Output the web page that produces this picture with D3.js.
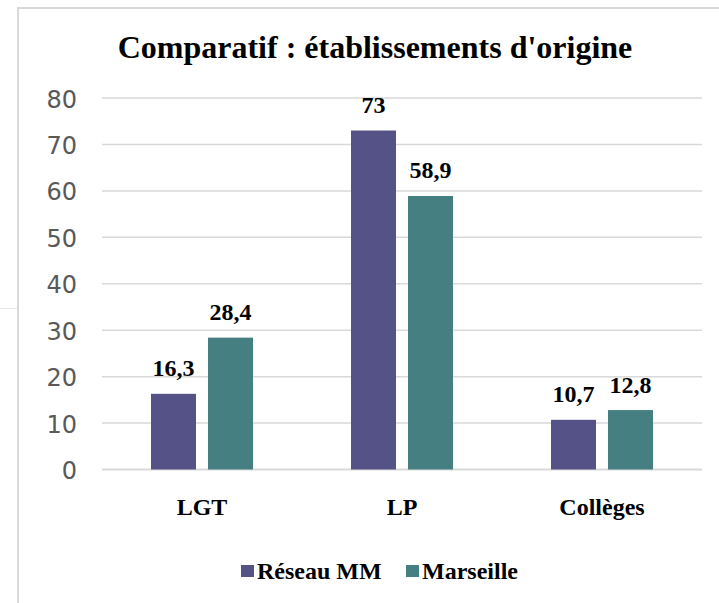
<!DOCTYPE html>
<html><head><meta charset="utf-8">
<script src="https://cdn.jsdelivr.net/npm/d3@7"></script>
<style>body{margin:0;background:#fff}</style>
</head><body>
<script>
const categories = ["LGT", "LP", "Collèges"];
const seriesNames = ["Réseau MM", "Marseille"];
const reseauMM = [16.3, 73, 10.7];
const marseille = [28.4, 58.9, 12.8];
const yTicks = [0, 10, 20, 30, 40, 50, 60, 70, 80];
const colors = ["#555288", "#467F82"];

const W = 719, H = 603;
const svg = d3.select("body").append("svg").attr("width", W).attr("height", H);
svg.append("line").attr("x1", 0).attr("x2", 17).attr("y1", 308.5).attr("y2", 308.5).attr("stroke", "#e6e6e6").attr("stroke-width", 1);
svg.append("rect").attr("x", 18).attr("y", 8).attr("width", W).attr("height", H).attr("fill", "#fff").attr("stroke", "#d9d9d9").attr("stroke-width", 2);

const x0 = 102, x1 = 702, yTop = 98, yBot = 469.5;
const x = d3.scaleBand().domain(categories).range([x0, x1]);
const y = d3.scaleLinear().domain([0, 80]).range([yBot, yTop]);

svg.append("text").attr("x", 375).attr("y", 58).attr("text-anchor", "middle")
  .attr("font-family", "Liberation Serif").attr("font-weight", "bold").attr("font-size", 32)
  .text("Comparatif : établissements d'origine");

svg.append("g").selectAll("line").data(yTicks).join("line")
  .attr("x1", x0).attr("x2", x1).attr("y1", d => y(d)).attr("y2", d => y(d))
  .attr("stroke", "#d9d9d9").attr("stroke-width", d => d === 0 ? 2 : 1.5);
svg.append("g").selectAll("text").data(yTicks).join("text")
  .attr("x", 77).attr("y", d => y(d) + 9.5).attr("text-anchor", "end")
  .attr("font-family", "DejaVu Sans").attr("font-size", 24).attr("fill", "#595959")
  .text(d => d);

const barW = 45, gap = 12;
const series = [reseauMM, marseille];
series.forEach((vals, si) => {
  const g = svg.append("g");
  const bx = (c) => x(c) + x.bandwidth() / 2 + (si === 0 ? -gap / 2 - barW : gap / 2);
  g.selectAll("rect").data(categories).join("rect")
    .attr("x", c => bx(c)).attr("width", barW)
    .attr("y", (c, i) => y(vals[i])).attr("height", (c, i) => yBot - y(vals[i]))
    .attr("fill", colors[si]);
  g.selectAll("text").data(categories).join("text")
    .attr("x", c => bx(c) + barW / 2).attr("y", (c, i) => y(vals[i]) - 17.5)
    .attr("text-anchor", "middle").attr("font-family", "Liberation Serif")
    .attr("font-weight", "bold").attr("font-size", 24)
    .text((c, i) => String(vals[i]).replace(".", ","));
});

svg.append("g").selectAll("text").data(categories).join("text")
  .attr("x", c => x(c) + x.bandwidth() / 2).attr("y", 515).attr("text-anchor", "middle")
  .attr("font-family", "Liberation Serif").attr("font-weight", "bold").attr("font-size", 24)
  .text(c => c);

const leg = [{x: 241, tx: 257}, {x: 406, tx: 422}];
seriesNames.forEach((n, i) => {
  svg.append("rect").attr("x", leg[i].x).attr("y", 565).attr("width", 13).attr("height", 12).attr("fill", colors[i]);
  svg.append("text").attr("x", leg[i].tx).attr("y", 579)
    .attr("font-family", "Liberation Serif").attr("font-weight", "bold").attr("font-size", 24).text(n);
});
</script>
</body></html>
